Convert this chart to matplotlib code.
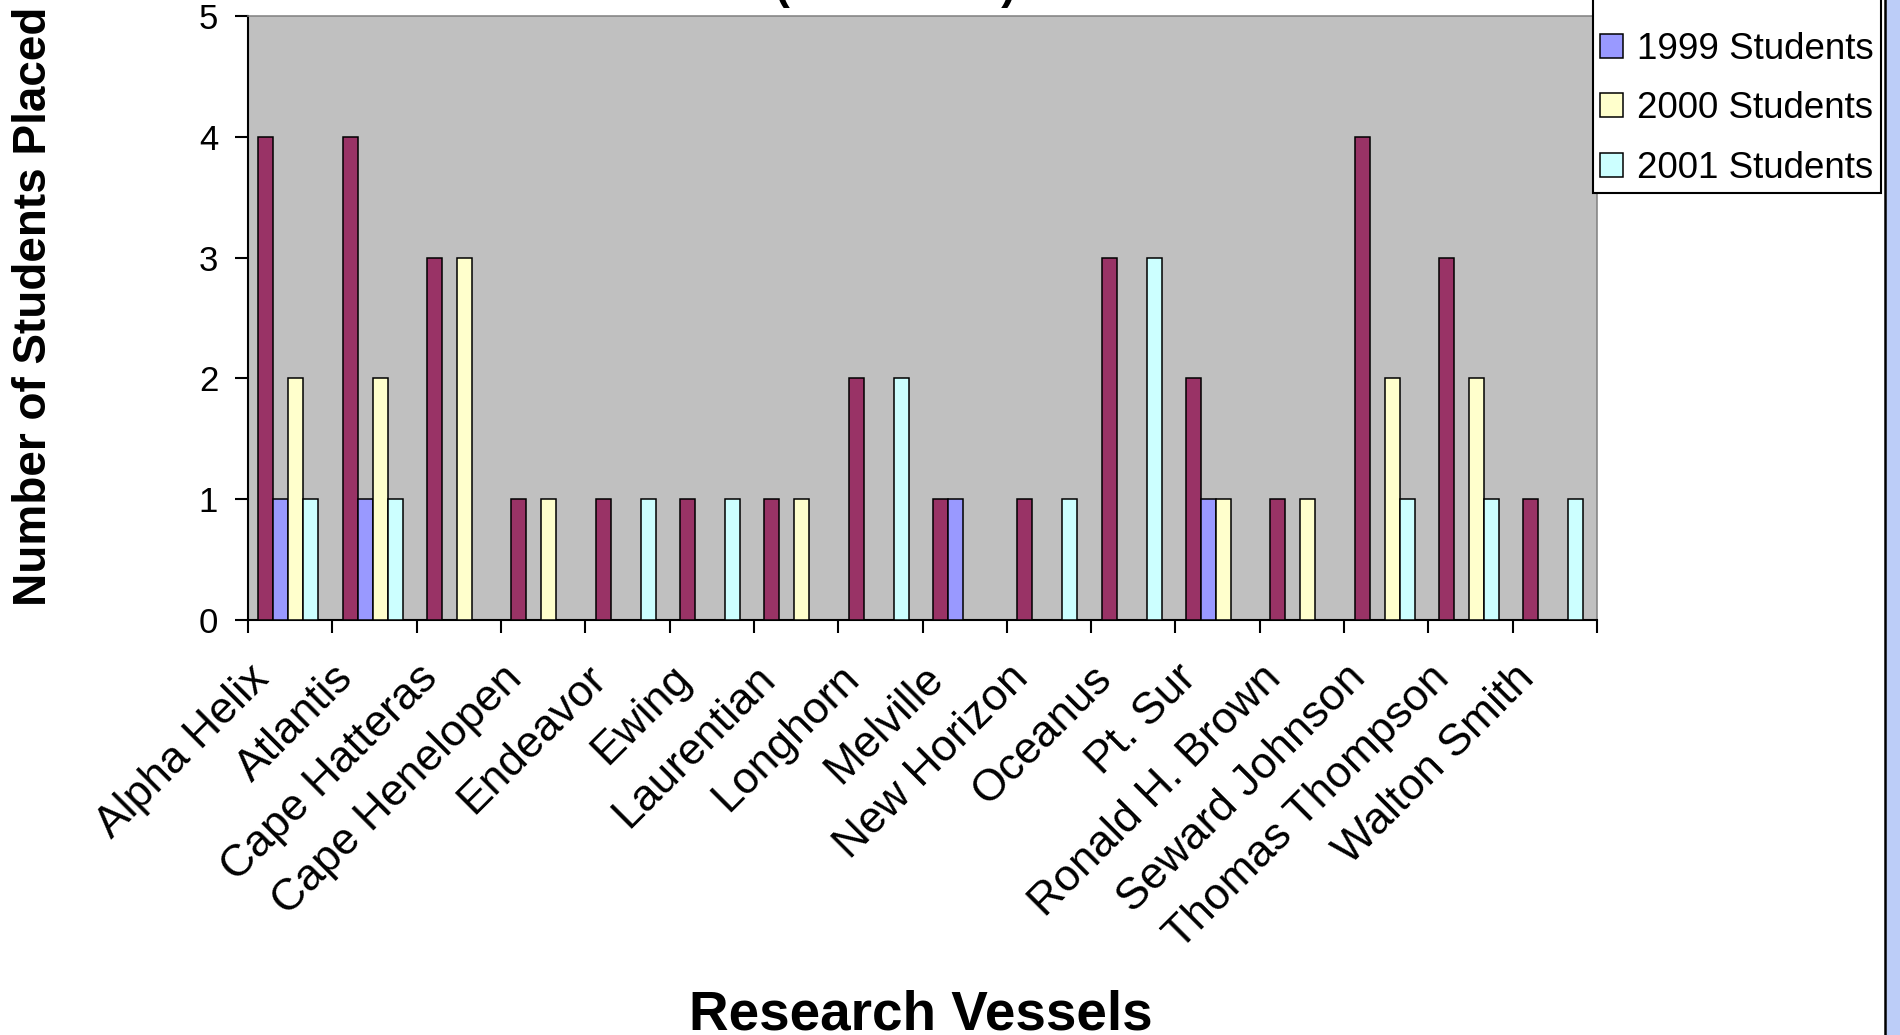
import matplotlib
matplotlib.use("Agg")
import matplotlib.pyplot as plt
import matplotlib.transforms as mtransforms
from matplotlib.patches import Rectangle
from matplotlib.lines import Line2D
import numpy as np

plt.rcParams['font.family'] = ['Liberation Sans', 'DejaVu Sans']

vessels = ["Alpha Helix", "Atlantis", "Cape Hatteras", "Cape Henelopen", "Endeavor",
           "Ewing", "Laurentian", "Longhorn", "Melville", "New Horizon", "Oceanus",
           "Pt. Sur", "Ronald H. Brown", "Seward Johnson", "Thomas Thompson", "Walton Smith"]
total_students = [4, 4, 3, 1, 1, 1, 1, 2, 1, 1, 3, 2, 1, 4, 3, 1]
students_1999 = [1, 1, 0, 0, 0, 0, 0, 0, 1, 0, 0, 1, 0, 0, 0, 0]
students_2000 = [2, 2, 3, 1, 0, 0, 1, 0, 0, 0, 0, 1, 1, 2, 2, 0]
students_2001 = [1, 1, 0, 0, 1, 1, 0, 2, 0, 1, 3, 0, 0, 1, 1, 1]
series_names = ["Total Students", "1999 Students", "2000 Students", "2001 Students"]
series_colors = ["#993366", "#9999FF", "#FFFFCC", "#CCFFFF"]
y_ticks = [0, 1, 2, 3, 4, 5]

W, H = 1900, 1035
fig = plt.figure(figsize=(W / 100, H / 100), dpi=100)
fig.patch.set_facecolor("white")

ax = fig.add_axes([248 / W, 1 - 620 / H, (1597 - 248) / W, (620 - 16) / H])
ax.set_facecolor("#C0C0C0")

n = len(vessels)
x = np.arange(n)
bw = 0.178
series = [total_students, students_1999, students_2000, students_2001]
for i, (vals, name, col) in enumerate(zip(series, series_names, series_colors)):
    ax.bar(x + 0.5 + (i - 1.5) * bw - 0.02, vals, width=bw, color=col,
           edgecolor="black", linewidth=1.1, label=name, zorder=3)

ax.set_xlim(0, n)
ax.set_ylim(0, 5)
ax.set_yticks(y_ticks)
ax.set_yticklabels([str(v) for v in y_ticks], fontsize=25)
ax.tick_params(axis="y", direction="out", length=9.5, width=1.5, pad=12, color="black")

# category boundary ticks
ax.set_xticks(np.arange(n + 1))
ax.set_xticklabels([])
ax.tick_params(axis="x", which="major", direction="out", length=9.5, width=1.5, color="black")
# labels at category centres
ax.set_xticks(x + 0.5, minor=True)
ax.set_xticklabels(vessels, minor=True, rotation=45, ha="right", fontsize=32)
ax.tick_params(axis="x", which="minor", length=0, pad=27)
offset = mtransforms.ScaledTranslation(-13 / 100, 0, fig.dpi_scale_trans)
for lab in ax.get_xticklabels(minor=True):
    lab.set_transform(lab.get_transform() + offset)

for s in ["top", "right"]:
    ax.spines[s].set_color("#808080")
    ax.spines[s].set_linewidth(1.1)
for s in ["left", "bottom"]:
    ax.spines[s].set_color("black")
    ax.spines[s].set_linewidth(1.5)

# axis titles
fig.text(34 / W, 1 - 306 / H, "Number of Students Placed", rotation=90,
         ha="center", va="center", fontsize=33, fontweight="bold")
fig.text(921 / W, 1 - 1030 / H, "Research Vessels", ha="center", va="baseline",
         fontsize=39.5, fontweight="bold")

# title (mostly outside the visible frame)
fig.text(775 / W, 1.0 + 1 / H, "(1999-2001)", ha="left", va="baseline",
         fontsize=32, fontweight="bold")

# legend
leg = ax.legend(loc="lower left", bbox_to_anchor=(1593 / W, 1 - 193 / H),
                bbox_transform=fig.transFigure, borderaxespad=0, fontsize=26.5,
                frameon=True, fancybox=False, framealpha=1, edgecolor="black",
                borderpad=0.2, labelspacing=0.66, handlelength=0.62,
                handleheight=0.62, handletextpad=0.38)
leg.get_frame().set_linewidth(1.5)

# blue strip at right edge
fig.patches.append(Rectangle((1886 / W, 0), (W - 1886) / W, 1, transform=fig.transFigure,
                             facecolor="#BCCDF8", edgecolor="none", linewidth=0, zorder=0))
fig.lines.append(Line2D([1885 / W, 1885 / W], [0, 1], transform=fig.transFigure,
                        color="black", linewidth=1.8))

fig.savefig("out.png", dpi=100)
